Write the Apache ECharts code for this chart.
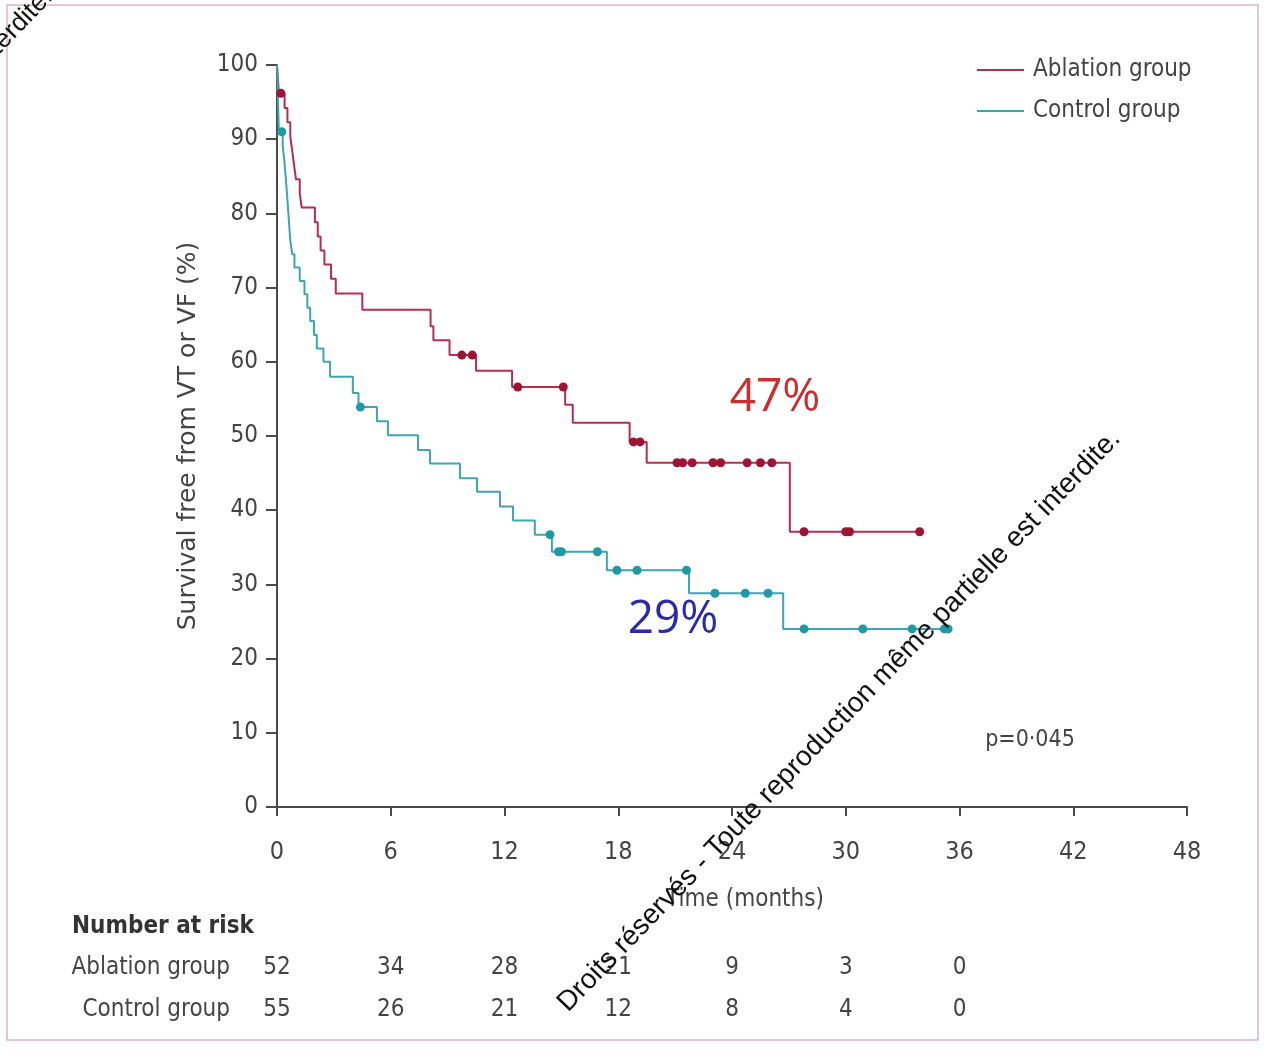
<!DOCTYPE html>
<html>
<head>
<meta charset="utf-8">
<script src="https://cdn.jsdelivr.net/npm/echarts@6/dist/echarts.min.js"></script>
<style>
html,body{margin:0;padding:0;background:#fff;}
#chart{width:1264px;height:1056px;}
</style>
</head>
<body>
<div id="chart"></div>
<script>
const xTicks = [0, 6, 12, 18, 24, 30, 36, 42, 48];
const yTicks = [0, 10, 20, 30, 40, 50, 60, 70, 80, 90, 100];

const ablationSteps = [
  [0,100],[0.1,96.2],[0.4,94.2],[0.55,92.3],[0.7,90.4],[0.8,88.5],[0.9,86.5],[1.0,84.6],
  [1.2,82.7],[1.3,80.8],[2.0,78.8],[2.15,76.9],[2.3,75.0],[2.5,73.1],[2.85,71.2],[3.1,69.2],
  [4.5,67.0],[8.1,64.8],[8.25,62.9],[9.1,60.9],[10.5,58.8],[12.4,56.6],[15.2,54.2],[15.6,51.8],
  [18.6,49.2],[19.5,46.4],[27.05,37.1],[33.9,37.1]
];
const ablationCensored = [
  [0.2,96.2],[9.75,60.9],[10.3,60.9],[12.7,56.6],[15.1,56.6],[18.8,49.2],[19.15,49.2],
  [21.1,46.4],[21.4,46.4],[21.9,46.4],[23.0,46.4],[23.4,46.4],[24.8,46.4],[25.5,46.4],[26.1,46.4],
  [27.8,37.1],[30.0,37.1],[30.2,37.1],[33.9,37.1]
];
const controlSteps = [
  [0,100],[0.1,90.9],[0.3,89.1],[0.38,87.3],[0.44,85.5],[0.5,83.6],[0.55,81.8],[0.6,80.0],
  [0.65,78.2],[0.7,76.4],[0.8,74.5],[0.92,72.7],[1.2,70.9],[1.45,69.1],[1.6,67.3],[1.75,65.5],
  [1.95,63.6],[2.1,61.8],[2.45,60.0],[2.8,58.0],[4.0,55.8],[4.3,53.9],[5.27,52.0],[5.85,50.1],
  [7.44,48.1],[8.07,46.3],[9.65,44.3],[10.55,42.5],[11.76,40.5],[12.45,38.6],[13.6,36.7],
  [14.5,34.4],[17.4,31.9],[21.73,28.8],[26.7,24.0],[35.3,24.0]
];
const controlCensored = [
  [0.25,91.0],[4.4,53.9],[14.4,36.7],[14.85,34.4],[15.0,34.4],[16.9,34.4],[17.93,31.9],[18.99,31.9],
  [21.6,31.9],[23.1,28.8],[24.7,28.8],[25.9,28.8],[27.8,24.0],[30.9,24.0],[33.5,24.0],[35.2,24.0],[35.4,24.0]
];

const riskTimes = [0, 6, 12, 18, 24, 30, 36];
const riskAblation = [52, 34, 28, 21, 9, 3, 0];
const riskControl = [55, 26, 21, 12, 8, 4, 0];

const NARROW = "'Liberation Sans Narrow','DejaVu Sans Condensed','Roboto Condensed',sans-serif";
const RED_LINE = '#b52d4f', RED_DOT = '#9e1434';
const CYAN_LINE = '#3ea5b2', CYAN_DOT = '#1f99a6';
const AXIS = '#4a4a4a';

const chart = echarts.init(document.getElementById('chart'), null, {renderer: 'canvas'});

const option = {
  backgroundColor: '#ffffff',
  animation: false,
  grid: {left: 277, right: 77, top: 65, bottom: 249, containLabel: false},
  xAxis: {
    type: 'value', min: 0, max: 48, interval: 6,
    axisLine: {show: true, onZero: false, lineStyle: {color: AXIS, width: 2}},
    axisTick: {show: true, length: 9, lineStyle: {color: AXIS, width: 2}},
    axisLabel: {color: '#444', fontFamily: NARROW, fontSize: 25, margin: 33},
    splitLine: {show: false}
  },
  yAxis: {
    type: 'value', min: 0, max: 100, interval: 10,
    name: 'Survival free from VT or VF (%)',
    nameLocation: 'middle', nameGap: 76, nameRotate: 90,
    nameTextStyle: {color: '#444', fontFamily: "'DejaVu Sans','Noto Sans',sans-serif", fontSize: 25},
    axisLine: {show: true, lineStyle: {color: AXIS, width: 2}},
    axisTick: {show: true, length: 11, lineStyle: {color: AXIS, width: 2}},
    axisLabel: {color: '#444', fontFamily: NARROW, fontSize: 24, margin: 19},
    splitLine: {show: false}
  },
  legend: {
    data: ['Ablation group', 'Control group'],
    orient: 'vertical', left: 972, top: 53, itemGap: 17,
    icon: 'rect', itemWidth: 47, itemHeight: 2,
    textStyle: {color: '#444', fontFamily: NARROW, fontSize: 24, padding: [0, 0, 0, 4]}
  },
  series: [
    {
      name: 'Ablation group', type: 'line', step: 'end', data: ablationSteps,
      showSymbol: false, lineStyle: {color: RED_LINE, width: 2}, itemStyle: {color: RED_LINE}, z: 3
    },
    {
      name: 'Control group', type: 'line', step: 'end', data: controlSteps,
      showSymbol: false, lineStyle: {color: CYAN_LINE, width: 2}, itemStyle: {color: CYAN_LINE}, z: 3
    },
    {
      name: 'Ablation censored', type: 'scatter', data: ablationCensored,
      symbol: 'circle', symbolSize: 9, itemStyle: {color: RED_DOT, opacity: 1}, z: 4
    },
    {
      name: 'Control censored', type: 'scatter', data: controlCensored,
      symbol: 'circle', symbolSize: 9, itemStyle: {color: CYAN_DOT, opacity: 1}, z: 4
    }
  ]
};
chart.setOption(option);

const graphics = [];
graphics.push({
  type: 'rect', shape: {x: 7, y: 5, width: 1251, height: 1035},
  style: {fill: 'none', stroke: '#e2b5be', lineWidth: 1.5}, z: 0, silent: true
});
graphics.push({type: 'text', x: 775, y: 398, style: {text: '47%', fill: '#c8302f', font: "46px 'Open Sans','Noto Sans',sans-serif", textAlign: 'center', textVerticalAlign: 'middle'}, z: 10});
graphics.push({type: 'text', x: 673, y: 620, style: {text: '29%', fill: '#2b2aa9', font: "46px 'Open Sans','Noto Sans',sans-serif", textAlign: 'center', textVerticalAlign: 'middle'}, z: 10});
graphics.push({type: 'text', x: 1030, y: 740, style: {text: 'p=0·045', fill: '#444', font: "23px " + NARROW, textAlign: 'center', textVerticalAlign: 'middle'}, z: 10});
graphics.push({type: 'text', x: 745, y: 900, style: {text: 'Time (months)', fill: '#444', font: "24px " + NARROW, textAlign: 'center', textVerticalAlign: 'middle'}, z: 10});
graphics.push({type: 'text', x: 72, y: 927, style: {text: 'Number at risk', fill: '#333', font: "bold 24px " + NARROW, textAlign: 'left', textVerticalAlign: 'middle'}, z: 10});
graphics.push({type: 'text', x: 230, y: 968, style: {text: 'Ablation group', fill: '#444', font: "24px " + NARROW, textAlign: 'right', textVerticalAlign: 'middle'}, z: 10});
graphics.push({type: 'text', x: 230, y: 1010, style: {text: 'Control group', fill: '#444', font: "24px " + NARROW, textAlign: 'right', textVerticalAlign: 'middle'}, z: 10});
riskTimes.forEach(function (t, i) {
  const px = chart.convertToPixel({xAxisIndex: 0}, t);
  graphics.push({type: 'text', x: px, y: 968, style: {text: String(riskAblation[i]), fill: '#444', font: "24px " + NARROW, textAlign: 'center', textVerticalAlign: 'middle'}, z: 10});
  graphics.push({type: 'text', x: px, y: 1010, style: {text: String(riskControl[i]), fill: '#444', font: "24px " + NARROW, textAlign: 'center', textVerticalAlign: 'middle'}, z: 10});
});
graphics.push({type: 'text', x: 1126, y: 444, rotation: 46 * Math.PI / 180,
  style: {text: 'Droits réservés - Toute reproduction même partielle est interdite.', fill: '#111', font: "28px 'Liberation Sans',Arial,sans-serif", textAlign: 'right', textVerticalAlign: 'bottom'}, z: 12});
graphics.push({type: 'text', x: 58, y: 2, rotation: 46 * Math.PI / 180,
  style: {text: 'est interdite.', fill: '#111', font: "26px 'Liberation Sans',Arial,sans-serif", textAlign: 'right', textVerticalAlign: 'bottom'}, z: 12});

chart.setOption({graphic: graphics});
</script>
</body>
</html>
